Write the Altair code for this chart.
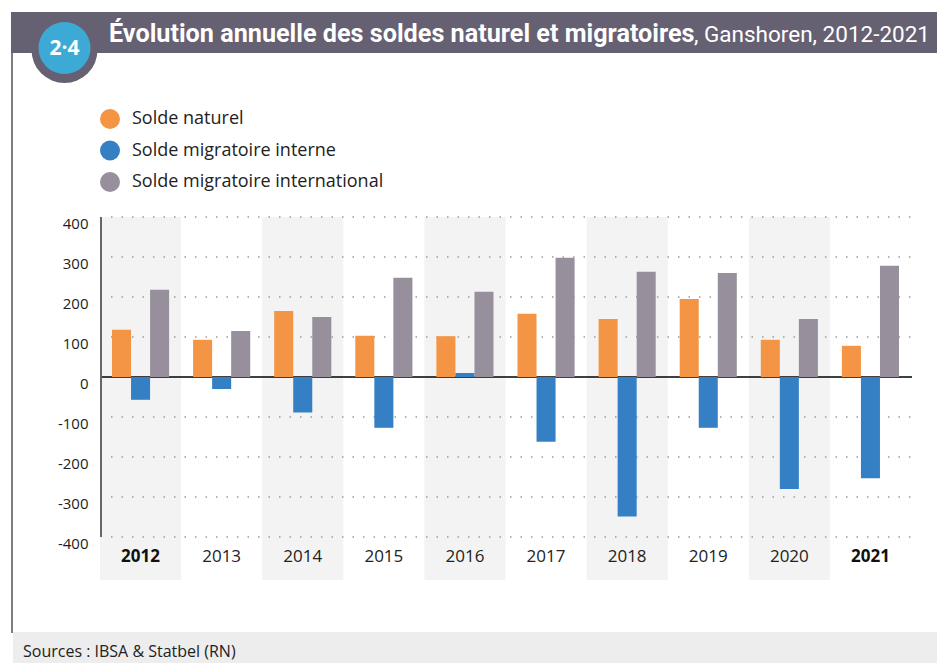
import altair as alt
import pandas as pd

years = ["2012", "2013", "2014", "2015", "2016", "2017", "2018", "2019", "2020", "2021"]
series = ["Solde naturel", "Solde migratoire interne", "Solde migratoire international"]
naturel = [118, 93, 165, 103, 102, 158, 145, 195, 93, 78]
interne = [-57, -30, -89, -127, 10, -162, -349, -127, -280, -253]
international = [218, 115, 150, 248, 213, 298, 263, 260, 145, 278]
colors = ["#F39545", "#3580C4", "#978F9B"]
ticks = [400, 300, 200, 100, 0, -100, -200, -300, -400]
bold_years = ["2012", "2021"]
shaded_years = ["2012", "2014", "2016", "2018", "2020"]

title_bold = "Évolution annuelle des soldes naturel et migratoires"
title_rest = ", Ganshoren, 2012-2021"
badge = "2·4"
source = "Sources : IBSA & Statbel (RN)"

rows = []
for i, y in enumerate(years):
    for s, vals in zip(series, [naturel, interne, international]):
        rows.append({"year": y, "series": s, "value": vals[i]})
df = pd.DataFrame(rows)
years_df = pd.DataFrame({"year": years,
                         "shade": [y in shaded_years for y in years],
                         "bold": [y in bold_years for y in years]})
grid_df = pd.DataFrame({"v": [t for t in ticks if t != 0]})
one = pd.DataFrame({"k": [0]})

W, H = 811, 363
yscale = alt.Scale(domain=[-507.5, 400], nice=False, zero=False)
xscale = alt.Scale(domain=years, paddingInner=0, paddingOuter=0)
SANS = "Open Sans"
TITLE = "Roboto"

yaxis = alt.Axis(values=ticks, domain=False, ticks=False, grid=False, title=None,
                 labelFont=SANS, labelFontSize=15, labelColor="#222",
                 labelPadding=12, labelOffset=6, labelExpr="'' + datum.value")

bands = alt.Chart(years_df).transform_filter("datum.shade").mark_rect(color="#F3F3F3").encode(
    x=alt.X("year:N", scale=xscale, axis=None),
    y=alt.value(0), y2=alt.value(H),
)

grid = alt.Chart(grid_df).mark_rule(color="#9a9a9a", strokeWidth=1.5, strokeDash=[1.5, 9]).encode(
    y=alt.Y("v:Q", scale=yscale, axis=yaxis, title=None),
    x=alt.value(11), x2=alt.value(W),
)

zero = alt.Chart(one).transform_calculate(v="0").mark_rule(color="#000", strokeWidth=1.5).encode(
    y=alt.Y("v:Q", scale=yscale, axis=yaxis, title=None),
    x=alt.value(0), x2=alt.value(W + 1),
)

bars = alt.Chart(df).mark_bar().encode(
    x=alt.X("year:N", scale=xscale, axis=None),
    xOffset=alt.XOffset("series:N", sort=series,
                        scale=alt.Scale(domain=series, paddingInner=0, paddingOuter=0.63)),
    y=alt.Y("value:Q", scale=yscale, stack=None, axis=yaxis, title=None),
    color=alt.Color("series:N", sort=series,
                    scale=alt.Scale(domain=series, range=colors),
                    legend=alt.Legend(orient="none", legendX=0, legendY=-108, title=None,
                                      direction="vertical", symbolType="circle",
                                      symbolSize=400, symbolStrokeWidth=0, symbolOpacity=1,
                                      labelFont=SANS, labelFontSize=18, labelColor="#222",
                                      rowPadding=11.5, labelOffset=12, padding=0,
                                      labelLimit=400)),
)

yaxis_line = alt.Chart(one).transform_calculate(v="400", b="-400").mark_rule(
    color="#666", strokeWidth=2).encode(
    x=alt.value(1),
    y=alt.Y("v:Q", scale=yscale, axis=yaxis, title=None), y2="b:Q",
)

year_norm = alt.Chart(years_df).transform_filter("!datum.bold").mark_text(
    font=SANS, fontSize=17, color="#222", baseline="middle").encode(
    x=alt.X("year:N", scale=xscale, axis=None), y=alt.value(340), text="year:N")
year_bold = alt.Chart(years_df).transform_filter("datum.bold").mark_text(
    font=SANS, fontSize=17, fontWeight="bold", color="#111", baseline="middle").encode(
    x=alt.X("year:N", scale=xscale, axis=None), y=alt.value(340), text="year:N")

# Decorations (offsets relative to plot origin)
RIGHT = 837
border = alt.Chart(one).mark_rule(color="#7d7d7d", strokeWidth=2).encode(
    x=alt.value(-88), y=alt.value(-164), y2=alt.value(416))
banner = alt.Chart(one).mark_rect(color="#666073").encode(
    x=alt.value(-89), x2=alt.value(RIGHT), y=alt.value(-205), y2=alt.value(-164))
footer = alt.Chart(one).mark_rect(color="#EDEDED").encode(
    x=alt.value(-87), x2=alt.value(RIGHT), y=alt.value(415), y2=alt.value(446))
ring = alt.Chart(one).mark_circle(color="#666073", opacity=1, size=4356).encode(
    x=alt.value(-35.5), y=alt.value(-167))
disc = alt.Chart(one).mark_circle(color="#3DAAD6", opacity=1, size=2704).encode(
    x=alt.value(-35.5), y=alt.value(-169))
badge_txt = alt.Chart(one).mark_text(text=badge, font=SANS, fontSize=21, fontWeight="bold",
                                     color="white", align="center", baseline="middle").encode(
    x=alt.value(-35.5), y=alt.value(-168))
t1 = alt.Chart(one).mark_text(text=title_bold, font=TITLE, fontSize=25.2, fontWeight="bold",
                              color="white", align="left", baseline="alphabetic").encode(
    x=alt.value(9), y=alt.value(-175))
t2 = alt.Chart(one).mark_text(text=title_rest, font=TITLE, fontSize=22.5,
                              color="white", align="left", baseline="alphabetic").encode(
    x=alt.value(594), y=alt.value(-175))
src = alt.Chart(one).mark_text(text=source, font=SANS, fontSize=16, color="#222",
                               align="left", baseline="alphabetic").encode(
    x=alt.value(-77), y=alt.value(440))

chart = alt.layer(
    bands, grid, zero, bars, yaxis_line, year_norm, year_bold,
    border, banner, footer, ring, disc, badge_txt, t1, t2, src
).properties(
    width=W, height=H,
    autosize=alt.AutoSizeParams(type="none"),
    padding={"left": 92, "top": 209, "right": 26, "bottom": 83},
).configure(background="white", view=alt.ViewConfig(stroke=None))

chart.save("out.html", embed_options={"renderer": "svg", "actions": False})
